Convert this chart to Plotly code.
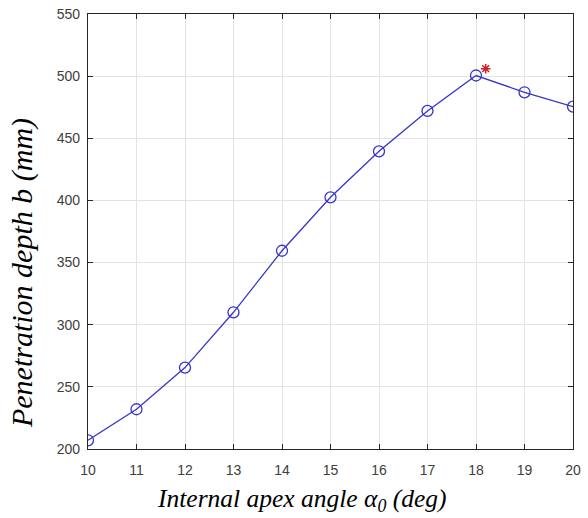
import plotly.graph_objects as go

angles = [10, 11, 12, 13, 14, 15, 16, 17, 18, 19, 20]
depth = [207, 232, 265.5, 310, 359.5, 402.5, 439.5, 472, 500.5, 487, 475.5]
opt_x = [18.2]
opt_y = [506]

x_ticks = [10, 11, 12, 13, 14, 15, 16, 17, 18, 19, 20]
y_ticks = [200, 250, 300, 350, 400, 450, 500, 550]

x_title = "<i>Internal apex angle α<sub>0</sub> (deg)</i>"
y_title = "<i>Penetration depth b (mm)</i>"

fig = go.Figure()
fig.add_trace(go.Scatter(
    x=angles, y=depth, mode="lines+markers",
    line=dict(color="#3636c8", width=1.3),
    marker=dict(symbol="circle-open", size=11, color="#3636c8", line=dict(width=1.3)),
    showlegend=False,
))
fig.add_trace(go.Scatter(
    x=opt_x, y=opt_y, mode="markers",
    marker=dict(symbol="asterisk-open", size=8, color="#d02020", line=dict(width=1.5, color="#d02020")),
    showlegend=False,
))

axis_common = dict(
    showline=True, linecolor="#262626", linewidth=1.2, mirror="allticks",
    ticks="inside", ticklen=5, tickcolor="#262626",
    showgrid=True, gridcolor="#e3e3e3", gridwidth=1,
    zeroline=False, automargin=False,
    tickfont=dict(family="Liberation Sans, Arial, sans-serif", size=14, color="#404040"),
)

fig.update_xaxes(range=[10, 20], tickvals=x_ticks, ticklabelstandoff=8, **axis_common)
fig.update_yaxes(range=[200, 550], tickvals=y_ticks, ticklabelstandoff=4, **axis_common)

title_font = dict(family="Liberation Serif, Times New Roman, serif", color="#000000")
fig.add_annotation(
    text=x_title, xref="paper", yref="paper", x=0.441, y=-0.117,
    xanchor="center", yanchor="middle", showarrow=False,
    font=dict(size=25.5, **title_font),
)
fig.add_annotation(
    text=y_title, xref="paper", yref="paper", x=-0.136, y=0.4046,
    xanchor="center", yanchor="middle", showarrow=False, textangle=-90,
    font=dict(size=30, **title_font),
)

fig.update_layout(
    width=588, height=518,
    margin=dict(l=88, r=15, t=14, b=69),
    plot_bgcolor="#ffffff", paper_bgcolor="#ffffff",
)

fig.write_html("out.html")
